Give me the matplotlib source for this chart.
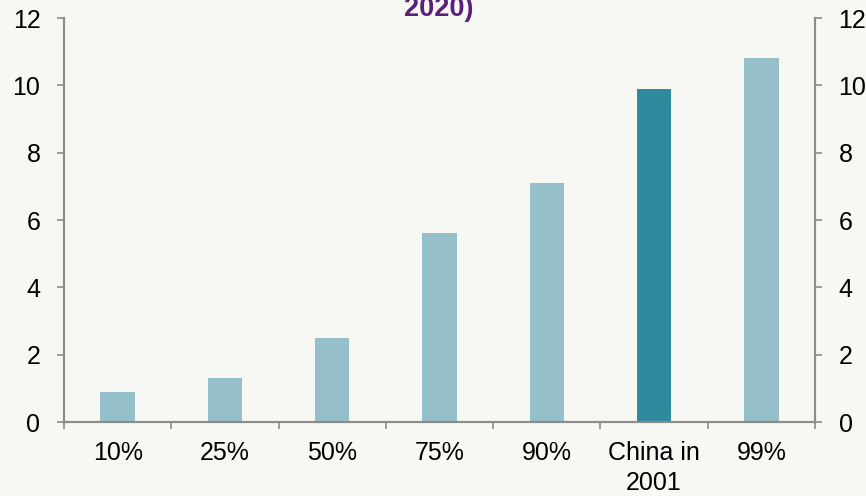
import matplotlib
matplotlib.use('Agg')
import matplotlib.pyplot as plt
import numpy as np

# donnees
categories = ['10%', '25%', '50%', '75%', '90%', 'China in\n2001', '99%']
values = [0.9, 1.3, 2.5, 5.6, 7.1, 9.9, 10.8]
highlight = 'China in\n2001'
y_ticks = [0, 2, 4, 6, 8, 10, 12]

light = '#95bfc9'
dark = '#2e8a9c'
bg = '#f7f7f3'
axis_grey = '#8c8c8c'

plt.rcParams['font.family'] = ['Liberation Sans', 'DejaVu Sans']

fig = plt.figure(figsize=(8.66, 4.96), dpi=100, facecolor=bg)
ax = fig.add_axes([64 / 866, 74 / 496, (815 - 64) / 866, (422 - 18) / 496])
ax.set_facecolor(bg)

x = np.arange(len(categories))
colors = [dark if c == highlight else light for c in categories]
ax.bar(x, values, width=0.32, color=colors, edgecolor='none', zorder=2)

ax.set_xlim(-0.5, len(categories) - 0.5)
ax.set_ylim(0, 12)
ax.set_yticks(y_ticks)
ax.set_xticks(x)
ax.set_xticklabels(categories, fontsize=18, linespacing=1.3)
ax.set_xticks(np.arange(len(categories) + 1) - 0.5, minor=True)
ax.tick_params(axis='x', which='major', length=0, pad=14)
ax.tick_params(axis='x', which='minor', length=5, width=1.2, color=axis_grey, direction='out')
ax.tick_params(axis='y', length=5, width=1.2, color=axis_grey, labelsize=18, pad=12)

ax2 = ax.twinx()
ax2.set_ylim(0, 12)
ax2.set_yticks(y_ticks)
ax2.tick_params(axis='y', length=5, width=1.2, color=axis_grey, labelsize=18, pad=12)

for a in (ax, ax2):
    a.spines['top'].set_visible(False)
    for s in ('left', 'right', 'bottom'):
        a.spines[s].set_color(axis_grey)
        a.spines[s].set_linewidth(1.5)

# titre coupe en haut de l'image
fig.text(439 / 866, 1 - 16 / 496, '2020)', ha='center', va='baseline',
         fontsize=19.5, fontweight='bold', color='#5b1f7a')

fig.savefig('out.png', dpi=100, facecolor=bg)
